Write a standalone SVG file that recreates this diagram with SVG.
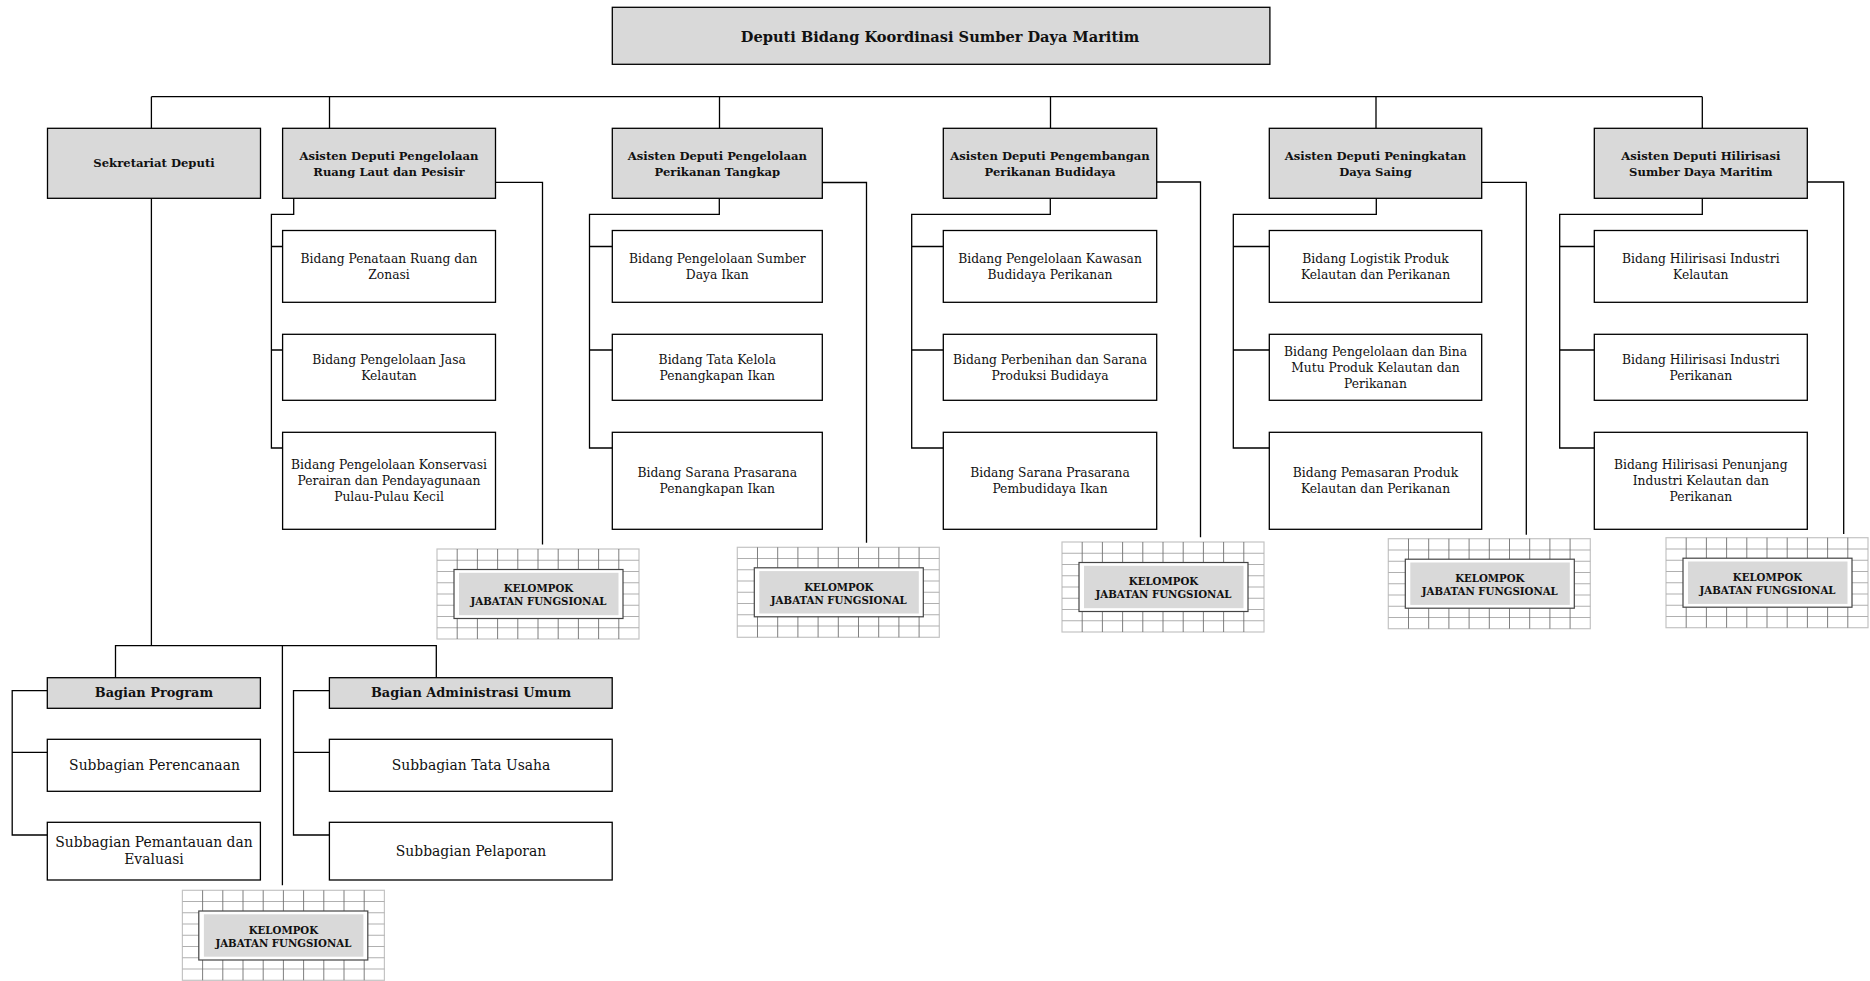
<svg xmlns="http://www.w3.org/2000/svg" xmlns:xlink="http://www.w3.org/1999/xlink" width="1870" height="981" viewBox="0 0 1870 981">
<style>
.box{fill:#fff;stroke:#000;stroke-width:1.3}
.hdr{fill:#d9d9d9;stroke:#000;stroke-width:1.3}
.ln{fill:none;stroke:#000;stroke-width:1.3}
text{font-family:"DejaVu Serif","Liberation Serif",serif;text-anchor:middle;fill:#111}
.tt{font-weight:bold;font-size:14.6px}
.tb{font-weight:bold;font-size:11.6px}
.t{font-size:12.3px}
.tg{font-weight:bold;font-size:12.9px}
.ts{font-size:13.9px}
.tk{font-weight:bold;font-size:10.2px}
.frame{fill:#fff;stroke:#444;stroke-width:1.2}
.frin{fill:#d9d9d9;stroke:none}
</style>
<defs>
<g id="grid">
<rect x="0" y="0" width="202" height="90" fill="#fff" stroke="#c4c4c4" stroke-width="1.2"/>
<path d="M0 11.25H202M0 22.5H202M0 33.75H202M0 45H202M0 56.25H202M0 67.5H202M0 78.75H202" fill="none" stroke="#b0b0b0" stroke-width="1.1"/>
<path d="M20.2 0V90M40.4 0V90M60.6 0V90M80.8 0V90M101 0V90M121.2 0V90M141.4 0V90M161.6 0V90M181.8 0V90" fill="none" stroke="#707070" stroke-width="0.9"/>
</g>
</defs>

<g id="connectors">
<path class="ln" d="M151.4 96.7H1702.3M151.4 96.7V128.3M329.5 96.7V128.3M719.5 96.7V128.3M1050.5 96.7V128.3M1376 96.7V128.3M1702.3 96.7V128.3"/>
<path class="ln" d="M495.5 182.3H542.5V544.5M822.3 182.5H866.5V542.7M1156.7 182H1200.5V537.3M1481.7 182.3H1526.3V534.7M1807.3 182H1843.7V534"/>
<path class="ln" d="M293.7 198.3V214.3H271.4V448H282.6M271.4 246.5H282.6M271.4 350H282.6"/>
<path class="ln" d="M719.3 198.3V214.3H589.5V448H612.3M589.5 246.5H612.3M589.5 350H612.3"/>
<path class="ln" d="M1050.3 198.3V214.3H911.7V448H943.3M911.7 246.5H943.3M911.7 350H943.3"/>
<path class="ln" d="M1376.3 198.3V214.3H1233.3V448H1269.3M1233.3 246.5H1269.3M1233.3 350H1269.3"/>
<path class="ln" d="M1702.3 198.3V214.3H1559.7V448H1594.3M1559.7 246.5H1594.3M1559.7 350H1594.3"/>
<path class="ln" d="M151.4 198.3V645.7M115.5 677.7V645.7H436.3V677.7M282.4 645.7V885.3"/>
<path class="ln" d="M47.3 690.7H12.2V835H47.3M12.2 752.3H47.3"/>
<path class="ln" d="M329.4 690.7H293.5V835H329.4M293.5 752.3H329.4"/>
</g>

<g id="deputi">
<rect class="hdr" x="612.3" y="7.3" width="657.6" height="57"/>
<text class="tt" x="940" y="41.5">Deputi Bidang Koordinasi Sumber Daya Maritim</text>
</g>

<g id="sekretariat">
<rect class="hdr" x="47.5" y="128.3" width="213" height="70"/>
<text class="tb" x="154" y="167">Sekretariat Deputi</text>
</g>

<g id="asdep1">
<rect class="hdr" x="282.6" y="128.3" width="212.9" height="70"/>
<text class="tb" x="389" y="160">Asisten Deputi Pengelolaan</text>
<text class="tb" x="389" y="176">Ruang Laut dan Pesisir</text>
</g>
<g id="asdep2">
<rect class="hdr" x="612.3" y="128.3" width="210" height="70"/>
<text class="tb" x="717.3" y="160">Asisten Deputi Pengelolaan</text>
<text class="tb" x="717.3" y="176">Perikanan Tangkap</text>
</g>
<g id="asdep3">
<rect class="hdr" x="943.3" y="128.3" width="213.4" height="70"/>
<text class="tb" x="1050" y="160">Asisten Deputi Pengembangan</text>
<text class="tb" x="1050" y="176">Perikanan Budidaya</text>
</g>
<g id="asdep4">
<rect class="hdr" x="1269.3" y="128.3" width="212.4" height="70"/>
<text class="tb" x="1375.5" y="160">Asisten Deputi Peningkatan</text>
<text class="tb" x="1375.5" y="176">Daya Saing</text>
</g>
<g id="asdep5">
<rect class="hdr" x="1594.3" y="128.3" width="213" height="70"/>
<text class="tb" x="1700.8" y="160">Asisten Deputi Hilirisasi</text>
<text class="tb" x="1700.8" y="176">Sumber Daya Maritim</text>
</g>

<g id="bidang1-1">
<rect class="box" x="282.6" y="230.5" width="212.9" height="71.8"/>
<text class="t" x="389" y="262.6">Bidang Penataan Ruang dan</text>
<text class="t" x="389" y="278.6">Zonasi</text>
</g>
<g id="bidang1-2">
<rect class="box" x="282.6" y="334.3" width="212.9" height="66"/>
<text class="t" x="389" y="363.5">Bidang Pengelolaan Jasa</text>
<text class="t" x="389" y="379.5">Kelautan</text>
</g>
<g id="bidang1-3">
<rect class="box" x="282.6" y="432.3" width="212.9" height="97"/>
<text class="t" x="389" y="468.8">Bidang Pengelolaan Konservasi</text>
<text class="t" x="389" y="484.8">Perairan dan Pendayagunaan</text>
<text class="t" x="389" y="500.8">Pulau-Pulau Kecil</text>
</g>

<g id="bidang2-1">
<rect class="box" x="612.3" y="230.5" width="210" height="71.8"/>
<text class="t" x="717.3" y="262.6">Bidang Pengelolaan Sumber</text>
<text class="t" x="717.3" y="278.6">Daya Ikan</text>
</g>
<g id="bidang2-2">
<rect class="box" x="612.3" y="334.3" width="210" height="66"/>
<text class="t" x="717.3" y="363.5">Bidang Tata Kelola</text>
<text class="t" x="717.3" y="379.5">Penangkapan Ikan</text>
</g>
<g id="bidang2-3">
<rect class="box" x="612.3" y="432.3" width="210" height="97"/>
<text class="t" x="717.3" y="476.8">Bidang Sarana Prasarana</text>
<text class="t" x="717.3" y="492.8">Penangkapan Ikan</text>
</g>

<g id="bidang3-1">
<rect class="box" x="943.3" y="230.5" width="213.4" height="71.8"/>
<text class="t" x="1050" y="262.6">Bidang Pengelolaan Kawasan</text>
<text class="t" x="1050" y="278.6">Budidaya Perikanan</text>
</g>
<g id="bidang3-2">
<rect class="box" x="943.3" y="334.3" width="213.4" height="66"/>
<text class="t" x="1050" y="363.5">Bidang Perbenihan dan Sarana</text>
<text class="t" x="1050" y="379.5">Produksi Budidaya</text>
</g>
<g id="bidang3-3">
<rect class="box" x="943.3" y="432.3" width="213.4" height="97"/>
<text class="t" x="1050" y="476.8">Bidang Sarana Prasarana</text>
<text class="t" x="1050" y="492.8">Pembudidaya Ikan</text>
</g>

<g id="bidang4-1">
<rect class="box" x="1269.3" y="230.5" width="212.4" height="71.8"/>
<text class="t" x="1375.5" y="262.6">Bidang Logistik Produk</text>
<text class="t" x="1375.5" y="278.6">Kelautan dan Perikanan</text>
</g>
<g id="bidang4-2">
<rect class="box" x="1269.3" y="334.3" width="212.4" height="66"/>
<text class="t" x="1375.5" y="355.5">Bidang Pengelolaan dan Bina</text>
<text class="t" x="1375.5" y="371.5">Mutu Produk Kelautan dan</text>
<text class="t" x="1375.5" y="387.5">Perikanan</text>
</g>
<g id="bidang4-3">
<rect class="box" x="1269.3" y="432.3" width="212.4" height="97"/>
<text class="t" x="1375.5" y="476.8">Bidang Pemasaran Produk</text>
<text class="t" x="1375.5" y="492.8">Kelautan dan Perikanan</text>
</g>

<g id="bidang5-1">
<rect class="box" x="1594.3" y="230.5" width="213" height="71.8"/>
<text class="t" x="1700.8" y="262.6">Bidang Hilirisasi Industri</text>
<text class="t" x="1700.8" y="278.6">Kelautan</text>
</g>
<g id="bidang5-2">
<rect class="box" x="1594.3" y="334.3" width="213" height="66"/>
<text class="t" x="1700.8" y="363.5">Bidang Hilirisasi Industri</text>
<text class="t" x="1700.8" y="379.5">Perikanan</text>
</g>
<g id="bidang5-3">
<rect class="box" x="1594.3" y="432.3" width="213" height="97"/>
<text class="t" x="1700.8" y="468.8">Bidang Hilirisasi Penunjang</text>
<text class="t" x="1700.8" y="484.8">Industri Kelautan dan</text>
<text class="t" x="1700.8" y="500.8">Perikanan</text>
</g>

<g id="kjf1" transform="translate(437,549)">
<use xlink:href="#grid" href="#grid"/>
<rect class="frame" x="17" y="20.5" width="169" height="49"/>
<rect class="frin" x="22" y="23.8" width="159.5" height="42.4"/>
<text class="tk" x="101.5" y="43.3">KELOMPOK</text>
<text class="tk" x="101.5" y="56.3">JABATAN FUNGSIONAL</text>
</g>
<g id="kjf2" transform="translate(737.3,547.3)">
<use xlink:href="#grid" href="#grid"/>
<rect class="frame" x="17" y="20.5" width="169" height="49"/>
<rect class="frin" x="22" y="23.8" width="159.5" height="42.4"/>
<text class="tk" x="101.5" y="43.3">KELOMPOK</text>
<text class="tk" x="101.5" y="56.3">JABATAN FUNGSIONAL</text>
</g>
<g id="kjf3" transform="translate(1062,542)">
<use xlink:href="#grid" href="#grid"/>
<rect class="frame" x="17" y="20.5" width="169" height="49"/>
<rect class="frin" x="22" y="23.8" width="159.5" height="42.4"/>
<text class="tk" x="101.5" y="43.3">KELOMPOK</text>
<text class="tk" x="101.5" y="56.3">JABATAN FUNGSIONAL</text>
</g>
<g id="kjf4" transform="translate(1388.3,538.7)">
<use xlink:href="#grid" href="#grid"/>
<rect class="frame" x="17" y="20.5" width="169" height="49"/>
<rect class="frin" x="22" y="23.8" width="159.5" height="42.4"/>
<text class="tk" x="101.5" y="43.3">KELOMPOK</text>
<text class="tk" x="101.5" y="56.3">JABATAN FUNGSIONAL</text>
</g>
<g id="kjf5" transform="translate(1666,537.7)">
<use xlink:href="#grid" href="#grid"/>
<rect class="frame" x="17" y="20.5" width="169" height="49"/>
<rect class="frin" x="22" y="23.8" width="159.5" height="42.4"/>
<text class="tk" x="101.5" y="43.3">KELOMPOK</text>
<text class="tk" x="101.5" y="56.3">JABATAN FUNGSIONAL</text>
</g>

<g id="bagian-program">
<rect class="hdr" x="47.3" y="677.7" width="213.1" height="30.6"/>
<text class="tg" x="154" y="697">Bagian Program</text>
</g>
<g id="subbagian-perencanaan">
<rect class="box" x="47.3" y="739.3" width="213.1" height="52"/>
<text class="ts" x="154.5" y="770.2">Subbagian Perencanaan</text>
</g>
<g id="subbagian-pemantauan">
<rect class="box" x="47.3" y="822.3" width="213.1" height="57.7"/>
<text class="ts" x="154" y="846.7">Subbagian Pemantauan dan</text>
<text class="ts" x="154" y="864.3">Evaluasi</text>
</g>
<g id="bagian-administrasi-umum">
<rect class="hdr" x="329.4" y="677.7" width="282.8" height="30.6"/>
<text class="tg" x="471" y="697">Bagian Administrasi Umum</text>
</g>
<g id="subbagian-tata-usaha">
<rect class="box" x="329.4" y="739.3" width="282.8" height="52"/>
<text class="ts" x="471" y="770.2">Subbagian Tata Usaha</text>
</g>
<g id="subbagian-pelaporan">
<rect class="box" x="329.4" y="822.3" width="282.8" height="57.7"/>
<text class="ts" x="471" y="855.9">Subbagian Pelaporan</text>
</g>

<g id="kjf-sekretariat" transform="translate(182.4,890.3)">
<use xlink:href="#grid" href="#grid"/>
<rect class="frame" x="16.4" y="20.7" width="169" height="49"/>
<rect class="frin" x="21.5" y="24" width="159.5" height="42.4"/>
<text class="tk" x="101" y="43.5">KELOMPOK</text>
<text class="tk" x="101" y="56.5">JABATAN FUNGSIONAL</text>
</g>
</svg>
